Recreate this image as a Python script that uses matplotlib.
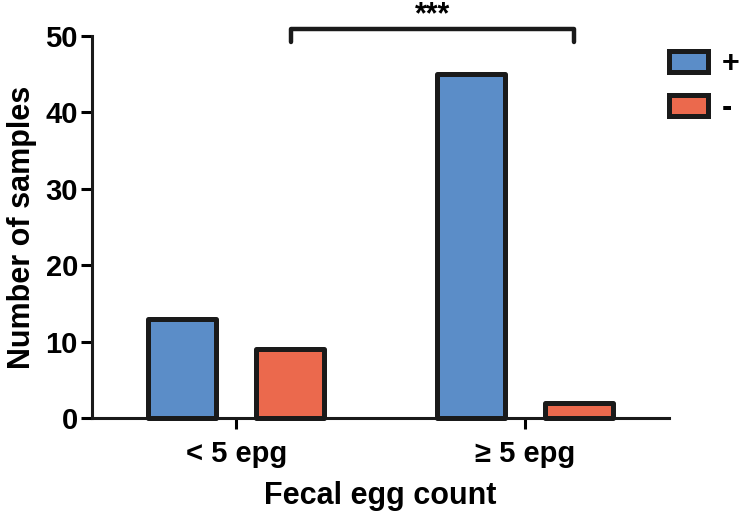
import matplotlib
matplotlib.use("Agg")
import matplotlib.pyplot as plt
from matplotlib.patches import Patch
import numpy as np

# data
groups = ["< 5 epg", "\u2265 5 epg"]
series_names = ["+", "-"]
plus_counts = [13, 45]
minus_counts = [9, 2]
sig_label = "***"

blue = "#5b8dc8"
red = "#eb694d"
ink = "#1a1a1a"

plt.rcParams["font.family"] = ["Liberation Sans", "DejaVu Sans"]
plt.rcParams["font.weight"] = "bold"

fig = plt.figure(figsize=(7.41, 5.13), dpi=100, facecolor="w")
ax = fig.add_axes([0.124, 0.185, 0.779, 0.745])

x = np.arange(len(groups))
w = 0.236
off = 0.1875
ax.bar(x - off, plus_counts, width=w, color=blue, edgecolor=ink,
       linewidth=3.6, joinstyle="round", zorder=3, clip_on=False)
ax.bar(x + off, minus_counts, width=w, color=red, edgecolor=ink,
       linewidth=3.6, joinstyle="round", zorder=3, clip_on=False)

ax.set_xlim(-0.5, 1.5)
ax.set_ylim(0, 50)
ax.set_yticks([0, 10, 20, 30, 40, 50])
ax.set_xticks(x)
ax.set_xticklabels(groups, fontsize=21, fontweight="bold")
ax.tick_params(axis="y", labelsize=21, width=2.2, length=8, direction="out", pad=2)
ax.tick_params(axis="x", width=2.2, length=8, direction="out", pad=8)
for t in ax.get_yticklabels():
    t.set_fontweight("bold")

for s in ["top", "right"]:
    ax.spines[s].set_visible(False)
for s in ["left", "bottom"]:
    ax.spines[s].set_linewidth(2.2)
    ax.spines[s].set_color(ink)
    ax.spines[s].set_zorder(4)

ax.set_ylabel("Number of samples", fontsize=22, fontweight="bold", labelpad=6)
ax.set_xlabel("Fecal egg count", fontsize=22, fontweight="bold", labelpad=9)

# significance bracket
bx = [0.19, 0.19, 1.17, 1.17]
by = [49.2, 50.9, 50.9, 49.2]
ax.plot(bx, by, color=ink, linewidth=3.2, solid_capstyle="round",
        solid_joinstyle="round", clip_on=False)
ax.text(0.68, 51.6, sig_label, ha="center", va="baseline", fontsize=22,
        fontweight="bold", clip_on=False)

handles = [Patch(facecolor=blue, edgecolor=ink, linewidth=3.6, joinstyle="round"),
           Patch(facecolor=red, edgecolor=ink, linewidth=3.6, joinstyle="round")]
ax.legend(handles, series_names, loc="upper left", bbox_to_anchor=(1.0, 0.965),
          frameon=False, fontsize=22, handlelength=1.28, handleheight=0.65,
          handletextpad=0.45, labelspacing=0.45, borderaxespad=0.0, borderpad=0.0)

fig.savefig("out.png", dpi=100, facecolor="w")
